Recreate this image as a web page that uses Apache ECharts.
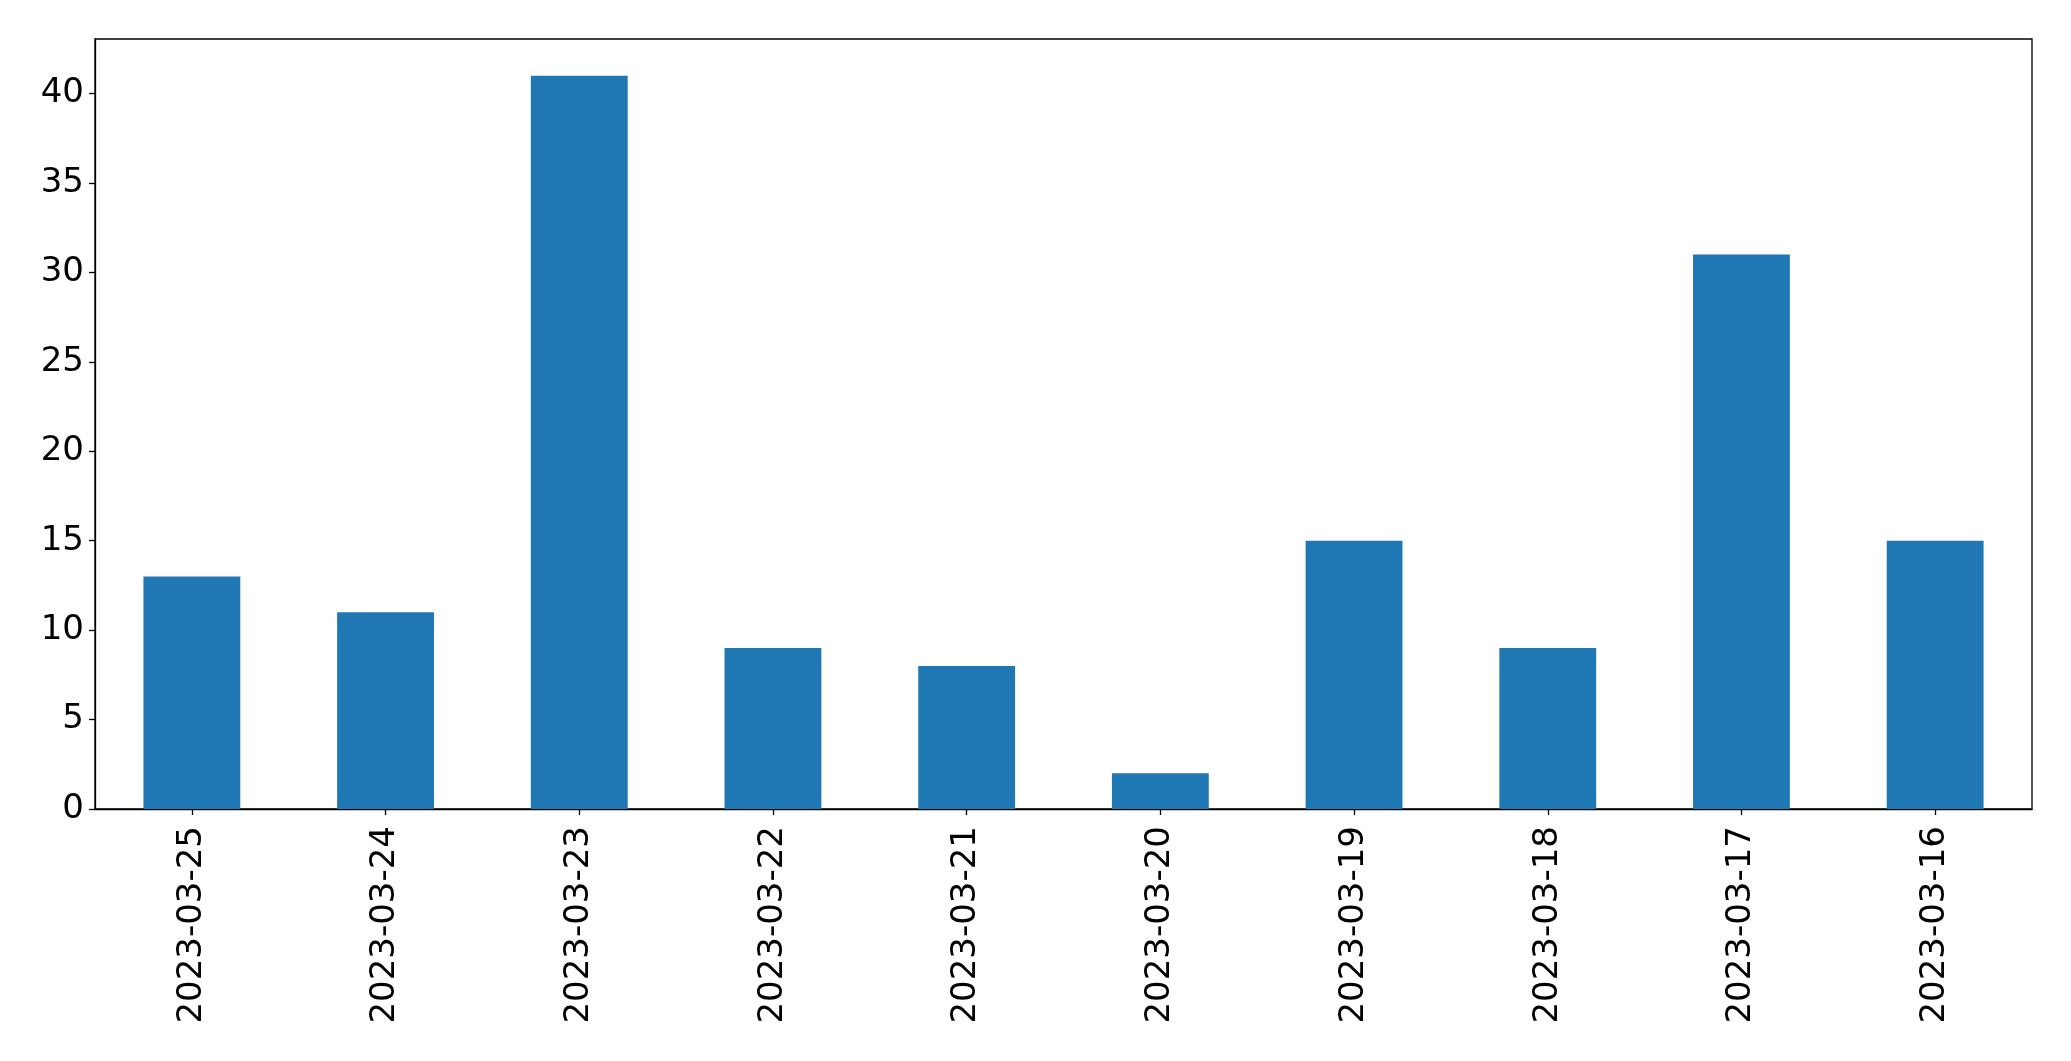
<!DOCTYPE html>
<html>
<head>
<meta charset="utf-8">
<script src="https://cdn.jsdelivr.net/npm/echarts@6/dist/echarts.min.js"></script>
<style>
html,body{margin:0;padding:0;background:#fff;}
#chart{width:2071px;height:1061px;}
</style>
</head>
<body>
<div id="chart"></div>
<script>
const categories = ["2023-03-25","2023-03-24","2023-03-23","2023-03-22","2023-03-21","2023-03-20","2023-03-19","2023-03-18","2023-03-17","2023-03-16"];
const values = [13, 11, 41, 9, 8, 2, 15, 9, 31, 15];
const yTicks = [0, 5, 10, 15, 20, 25, 30, 35, 40];

const chart = echarts.init(document.getElementById('chart'), null, {renderer: 'canvas'});
const font = 'DejaVu Sans';
chart.setOption({
  animation: false,
  grid: {left: 95, right: 39, top: 39, bottom: 252, show: true, borderColor: '#000', borderWidth: 1.3, backgroundColor: 'transparent'},
  xAxis: {
    type: 'category',
    data: categories,
    boundaryGap: true,
    axisLine: {show: true, lineStyle: {color: '#000', width: 1.3}},
    axisTick: {show: true, alignWithLabel: true, length: 6, lineStyle: {color: '#000', width: 1.3}},
    axisLabel: {rotate: 90, margin: 17, color: '#000', fontFamily: font, fontSize: 34, interval: 0},
    splitLine: {show: false}
  },
  yAxis: {
    type: 'value',
    min: 0,
    max: 43.05,
    interval: 5,
    axisLine: {show: true, lineStyle: {color: '#000', width: 1.3}},
    axisTick: {show: true, length: 6, lineStyle: {color: '#000', width: 1.3}, customValues: yTicks},
    axisLabel: {margin: 11, color: '#000', fontFamily: font, fontSize: 34, customValues: yTicks, padding: [6, 0, 0, 0]},
    splitLine: {show: false}
  },
  series: [{
    type: 'bar',
    data: values,
    barWidth: '50%',
    itemStyle: {color: '#1f77b4'}
  }]
});
</script>
</body>
</html>
